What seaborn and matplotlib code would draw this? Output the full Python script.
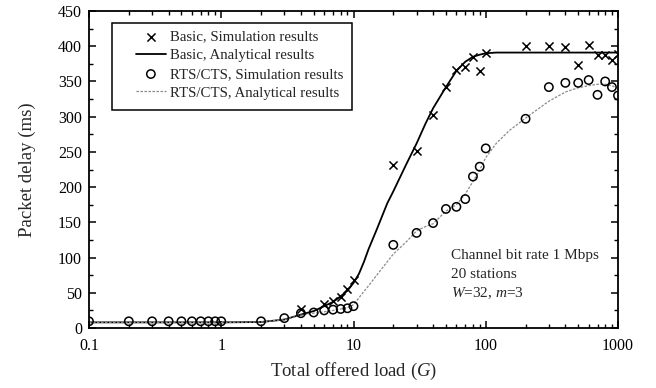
import matplotlib
matplotlib.use("Agg")
import matplotlib.pyplot as plt
from matplotlib.patches import Rectangle
from matplotlib.ticker import LogLocator, FixedLocator, NullFormatter, MultipleLocator
import seaborn as sns
import pandas as pd

nan = float("nan")

# Simulation points (offered load G -> packet delay in ms)
load_sim = [0.1, 0.2, 0.3, 0.4, 0.5, 0.6, 0.7, 0.8, 0.9, 1, 2, 3, 4, 5, 6, 7, 8, 9, 10,
            20, 30, 40, 50, 60, 70, 80, 90, 100, 200, 300, 400, 500, 600, 700, 800, 900, 1000]
basic_sim = [nan, nan, nan, nan, nan, nan, nan, nan, nan, nan, nan, nan, 27, nan, 34, 38, 44, 56, 68,
             231, 251, 302, 342, 366, 370, 384, 365, 390, 401, 401, 399, 374, 402, 387, 388, 381, 389]
rts_sim = [9.5, 9.5, 9.5, 9.5, 9.5, 9.5, 9.5, 9.5, 9.5, 9.5, 9.5, 14, 21, 22, 25, 26, 27, 28, 31,
           118, 135, 149, 169, 172, 183, 215, 229, 255, 297, 342, 348, 348, 352, 331, 350, 342, 330]

# Analytical model curves
load_ana = [0.1, 0.2, 0.5, 1, 2, 3, 4, 5, 6, 7, 8, 9, 10, 11, 12, 13, 15, 18, 20, 25, 30, 35,
            40, 50, 60, 70, 80, 90, 100, 120, 150, 200, 300, 400, 500, 600, 700, 800, 900, 1000]
basic_ana = [8, 8, 8, 8, 8.5, 12, 19, 24, 31, 37, 45, 53, 64, 77, 94, 112, 140, 177, 194, 232, 262, 290,
             312, 342, 365, 378, 385, 388, 390, 391, 391, 391, 391, 391, 391, 391, 391, 391, 391, 391]
rts_ana = [8, 8, 8, 8, 8.5, 12, 18, 21, 23, 25, 27, 29, 33, 43, 52, 60, 75, 94, 105, 122, 138, 144,
           148, 166, 175, 190, 208, 224, 242, 262, 280, 298, 322, 335, 341, 344, 346, 346, 344, 340]

x_ticks = [0.1, 1, 10, 100, 1000]
x_ticklabels = ["0.1", "1", "10", "100", "1000"]
y_ticks = [0, 50, 100, 150, 200, 250, 300, 350, 400, 450]

labels = ["Basic, Simulation results", "Basic, Analytical results",
          "RTS/CTS, Simulation results", "RTS/CTS, Analytical results"]
note_lines = ["Channel bit rate 1 Mbps", "20 stations", "$W$=32, $m$=3"]

sns.set_theme(style="ticks")
plt.rcParams["font.family"] = ["Liberation Serif", "DejaVu Serif"]
plt.rcParams["mathtext.fontset"] = "custom"
plt.rcParams["mathtext.rm"] = "Liberation Serif"
plt.rcParams["mathtext.it"] = "Liberation Serif:italic"

sim = pd.DataFrame({"load": load_sim, "basic": basic_sim, "rts": rts_sim})
ana = pd.DataFrame({"load": load_ana, "basic": basic_ana, "rts": rts_ana})

fig = plt.figure(figsize=(6.56, 3.88), dpi=100)
W, H = 656, 388
ax_l, ax_r, ax_t, ax_b = 89, 618, 11, 328
ax = fig.add_axes([ax_l / W, 1 - ax_b / H, (ax_r - ax_l) / W, (ax_b - ax_t) / H])

sns.lineplot(data=ana, x="load", y="basic", ax=ax, color="black", lw=1.3,
             label=labels[1], zorder=2)
sns.lineplot(data=ana, x="load", y="rts", ax=ax, color="#8a8a8a", lw=0.9,
             linestyle=(0, (2.0, 1.2)), label=labels[3], zorder=2)
sns.scatterplot(data=sim, x="load", y="basic", ax=ax, marker="x", color="black",
                s=34, linewidth=1.1, label=labels[0], zorder=3)
sns.scatterplot(data=sim, x="load", y="rts", ax=ax, marker="o", color="none",
                edgecolor="black", s=36, linewidth=1.1, label=labels[2], zorder=3)

ax.set_xscale("log")
ax.set_xlim(0.1, 1000)
ax.set_ylim(0, 450)
ax.xaxis.set_major_locator(FixedLocator(x_ticks))
ax.set_xticklabels(x_ticklabels)
ax.xaxis.set_minor_locator(LogLocator(base=10, subs=range(2, 10), numticks=20))
ax.xaxis.set_minor_formatter(NullFormatter())
ax.set_yticks(y_ticks)
ax.yaxis.set_minor_locator(MultipleLocator(25))

ax.tick_params(which="both", direction="in", top=True, right=True, colors="black",
               labelsize=11.5)
ax.tick_params(axis="x", which="major", pad=7)
ax.tick_params(axis="y", which="major", pad=5)
ax.tick_params(which="major", length=5, width=1.1)
ax.tick_params(which="minor", length=3, width=1.0)
for sp in ax.spines.values():
    sp.set_visible(True)
    sp.set_color("black")
    sp.set_linewidth(1.3)

ax.set_xlabel("Total offered load ($G$)", fontsize=13.5, labelpad=5)
ax.set_ylabel("Packet delay (ms)", fontsize=13.5, labelpad=16)

handles, labs = ax.get_legend_handles_labels()
order = [labs.index(l) for l in labels]
leg = ax.legend([handles[i] for i in order], [labs[i] for i in order],
                loc="upper left", bbox_to_anchor=((136 - ax_l) / (ax_r - ax_l), (ax_b - 30) / (ax_b - ax_t)),
                borderaxespad=0, frameon=False, fontsize=10.7, handlelength=2.0,
                handletextpad=0.3, labelspacing=0.36, borderpad=0)
# legend box
ax.add_patch(Rectangle(((112 - ax_l) / (ax_r - ax_l), (ax_b - 110) / (ax_b - ax_t)),
                       (352 - 112) / (ax_r - ax_l), (110 - 23) / (ax_b - ax_t),
                       transform=ax.transAxes, fill=False, edgecolor="black", lw=1.1, zorder=5))

for i, line in enumerate(note_lines):
    ax.text((451 - ax_l) / (ax_r - ax_l), (ax_b - (255 + 19 * i)) / (ax_b - ax_t), line,
            transform=ax.transAxes, ha="left", va="center", fontsize=11)

fig.savefig("out.png", dpi=100)
